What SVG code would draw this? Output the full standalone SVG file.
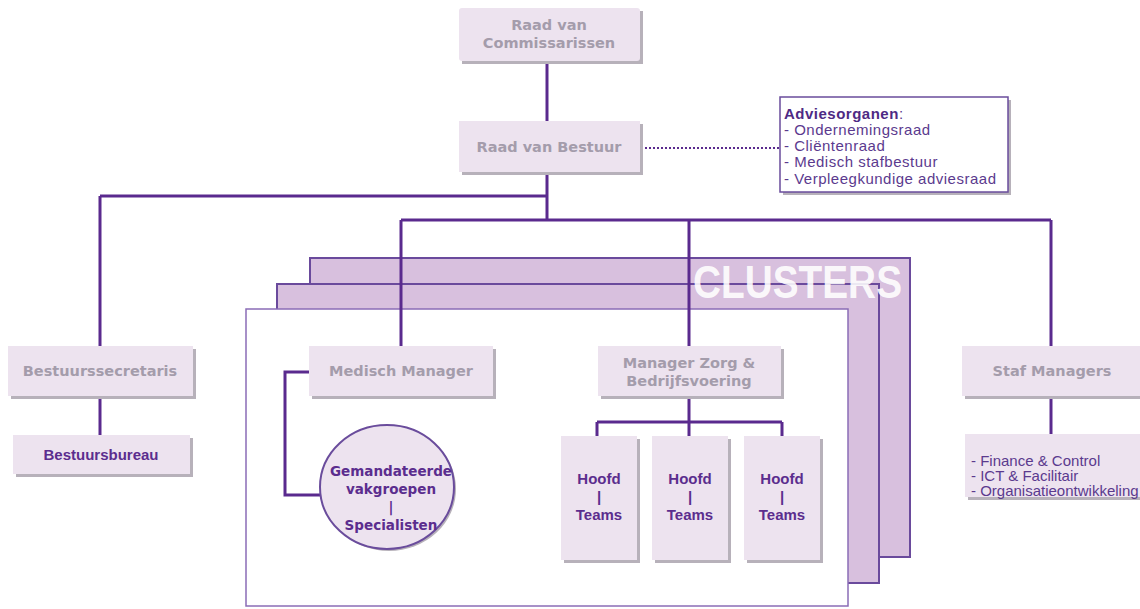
<svg xmlns="http://www.w3.org/2000/svg" width="1140" height="609" viewBox="0 0 1140 609">
<style>
.bg{fill:#ffffff}
.panel{fill:#d8c0de;stroke:#6a4a9c;stroke-width:2}
.front{fill:#ffffff;stroke:#8a6cb6;stroke-width:1.5}
.box{fill:#ede3ef}
.sh{fill:#b7b1ba}
.grey{font-family:"DejaVu Sans",Verdana,sans-serif;font-weight:bold;font-size:14.5px;fill:#a49cab;text-anchor:middle}
.purp{font-family:"Liberation Sans",Arial,sans-serif;font-weight:bold;font-size:15px;fill:#5b2d8e;text-anchor:middle}
.circ{font-family:"DejaVu Sans",Verdana,sans-serif;font-weight:bold;font-size:13.5px;fill:#5b2d8e;text-anchor:middle}
.list{font-family:"Liberation Sans",Arial,sans-serif;font-size:15px;fill:#5b3a8e}
.conn{fill:none;stroke:#5a2a8e;stroke-width:3}
.dots{fill:none;stroke:#5a2a8e;stroke-width:2;stroke-dasharray:2 2}
</style>
<rect class="bg" x="0" y="0" width="1140" height="609"/>
<g id="clusters">
<rect class="panel" x="310" y="258" width="600" height="299"/>
<rect class="panel" x="277" y="284" width="602" height="299"/>
<rect class="front" x="246" y="309" width="602" height="297"/>
<text x="902" y="298" font-family="Liberation Sans,Arial,sans-serif" font-weight="bold" font-size="46" fill="#ffffff" fill-opacity="0.9" text-anchor="end" textLength="209" lengthAdjust="spacingAndGlyphs">CLUSTERS</text>
</g>
<g id="connectors">
<path class="conn" d="M547 61 V121"/>
<path class="conn" d="M547 172 V220 M100 196 H547 M100 196 V346"/>
<path class="conn" d="M401 220 H1051 M401 220 V346 M689 220 V346 M1051 220 V346"/>
<path class="conn" d="M100 396 V435"/>
<path class="conn" d="M1051 396 V434"/>
<path class="conn" d="M309 372 H285 V495 H322"/>
<path class="conn" d="M689 396 V436 M597 422 H782 M597 422 V436 M782 422 V436"/>
<path class="dots" d="M641 148 H780"/>
</g>
<g id="rvc">
<rect class="sh" x="462" y="11" width="181" height="53"/>
<rect class="box" x="459" y="8" width="181" height="53" rx="3"/>
<text class="grey" x="549" y="30">Raad van</text>
<text class="grey" x="549" y="48">Commissarissen</text>
</g>
<g id="rvb">
<rect class="sh" x="462" y="124" width="181" height="51"/>
<rect class="box" x="459" y="121" width="181" height="51"/>
<text class="grey" x="549" y="152">Raad van Bestuur</text>
</g>
<g id="advies">
<rect class="sh" x="783" y="100" width="228" height="95"/>
<rect x="780" y="97" width="228" height="95" fill="#ffffff" stroke="#6a4c9c" stroke-width="1.5"/>
<text class="list" x="784" y="119" letter-spacing="0.5"><tspan font-weight="bold" fill="#4e2a84">Adviesorganen</tspan>:</text>
<text class="list" x="784" y="135" letter-spacing="0.5">- Ondernemingsraad</text>
<text class="list" x="784" y="151" letter-spacing="0.5">- Cliëntenraad</text>
<text class="list" x="784" y="167" letter-spacing="0.5">- Medisch stafbestuur</text>
<text class="list" x="784" y="184" letter-spacing="0.5">- Verpleegkundige adviesraad</text>
</g>
<g id="sec">
<rect class="sh" x="11" y="349" width="185" height="50"/>
<rect class="box" x="8" y="346" width="185" height="50"/>
<text class="grey" x="100" y="376">Bestuurssecretaris</text>
</g>
<g id="bureau">
<rect class="sh" x="16" y="438" width="177" height="39"/>
<rect class="box" x="13" y="435" width="177" height="39"/>
<text class="purp" x="101" y="460">Bestuursbureau</text>
</g>
<g id="mm">
<rect class="sh" x="312" y="349" width="184" height="50"/>
<rect class="box" x="309" y="346" width="184" height="50"/>
<text class="grey" x="401" y="376">Medisch Manager</text>
</g>
<g id="mzb">
<rect class="sh" x="601" y="349" width="183" height="50"/>
<rect class="box" x="598" y="346" width="183" height="50"/>
<text class="grey" x="689" y="368">Manager Zorg &amp;</text>
<text class="grey" x="689" y="386">Bedrijfsvoering</text>
</g>
<g id="staf">
<rect class="sh" x="965" y="349" width="178" height="50"/>
<rect class="box" x="962" y="346" width="178" height="50"/>
<text class="grey" x="1052" y="376">Staf Managers</text>
</g>
<g id="staflist">
<rect class="sh" x="968" y="437" width="175" height="63"/>
<rect class="box" x="965" y="434" width="175" height="63"/>
<text class="list" x="971" y="466">- Finance &amp; Control</text>
<text class="list" x="971" y="481">- ICT &amp; Facilitair</text>
<text class="list" x="971" y="496">- Organisatieontwikkeling</text>
</g>
<g id="vakgroepen">
<ellipse cx="389" cy="489" rx="67" ry="62" fill="#b7b1ba"/>
<ellipse cx="387" cy="487" rx="67" ry="62" fill="#ede3ef" stroke="#6a4c9c" stroke-width="2"/>
<text class="circ" x="391" y="476">Gemandateerde</text>
<text class="circ" x="391" y="494">vakgroepen</text>
<text class="circ" x="391" y="512">|</text>
<text class="circ" x="391" y="530">Specialisten</text>
</g>
<g id="hoofd1">
<rect class="sh" x="564" y="439" width="76" height="124"/>
<rect class="box" x="561" y="436" width="76" height="124"/>
<text class="purp" x="599" y="484">Hoofd</text>
<text class="purp" x="599" y="502">|</text>
<text class="purp" x="599" y="520">Teams</text>
</g>
<g id="hoofd2">
<rect class="sh" x="655" y="439" width="76" height="124"/>
<rect class="box" x="652" y="436" width="76" height="124"/>
<text class="purp" x="690" y="484">Hoofd</text>
<text class="purp" x="690" y="502">|</text>
<text class="purp" x="690" y="520">Teams</text>
</g>
<g id="hoofd3">
<rect class="sh" x="747" y="439" width="76" height="124"/>
<rect class="box" x="744" y="436" width="76" height="124"/>
<text class="purp" x="782" y="484">Hoofd</text>
<text class="purp" x="782" y="502">|</text>
<text class="purp" x="782" y="520">Teams</text>
</g>
</svg>
